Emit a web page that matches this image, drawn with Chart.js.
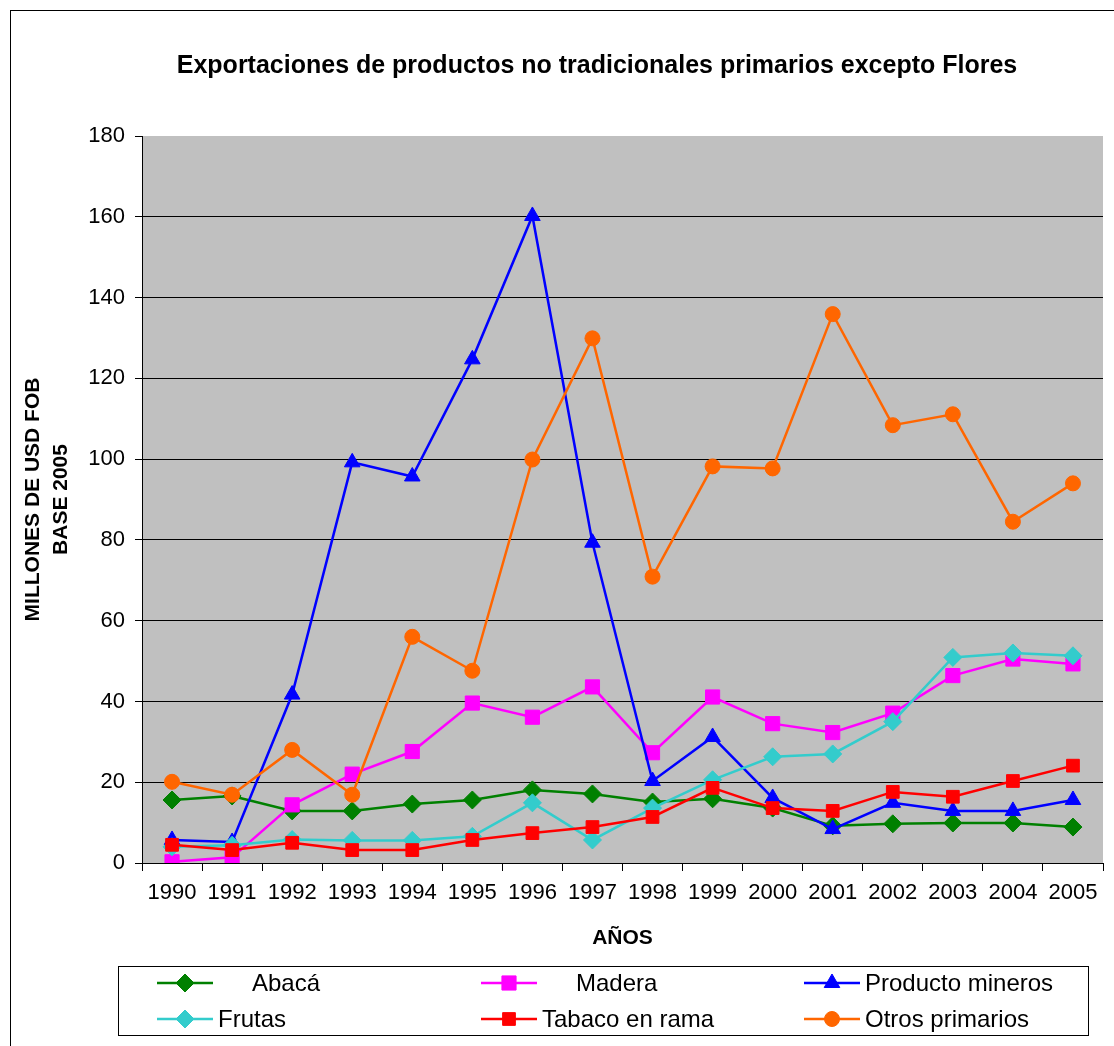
<!DOCTYPE html>
<html>
<head>
<meta charset="utf-8">
<script src="https://cdn.jsdelivr.net/npm/chart.js@4"></script>
<style>
  body{margin:0;background:#fff;overflow:hidden;}
  #frame{position:absolute;left:10px;top:10px;width:1120px;height:1100px;border-left:1px solid #000;border-top:1px solid #000;}
  #chart{position:absolute;left:0;top:0;}
</style>
</head>
<body>
<div id="frame"></div>
<canvas id="chart" width="1114" height="1046"></canvas>
<script>
const years=['1990','1991','1992','1993','1994','1995','1996','1997','1998','1999','2000','2001','2002','2003','2004','2005']
const abaca=[15.6,16.6,12.9,12.9,14.6,15.6,18.1,17.1,15.1,15.9,13.6,9.2,9.7,9.9,9.9,8.9]
const madera=[0.3,1.4,14.4,22.0,27.6,39.6,36.1,43.6,27.3,41.1,34.5,32.3,37.1,46.4,50.5,49.3]
const mineros=[5.7,5.2,41.7,99.2,95.7,124.7,160.2,79.3,20.3,31.2,16.1,8.4,14.9,12.9,12.9,15.6]
const frutas=[4.0,4.4,5.8,5.6,5.6,6.6,14.9,5.7,13.6,20.6,26.3,27.0,35.0,50.9,52.0,51.3]
const tabaco=[4.5,3.2,5.0,3.2,3.2,5.7,7.4,8.9,11.4,18.6,13.6,12.9,17.6,16.4,20.3,24.1]
const otros=[20.1,16.9,28.0,16.9,56.0,47.6,99.9,129.9,70.9,98.2,97.7,135.9,108.4,111.1,84.5,94.0]
const yTicks=[0,20,40,60,80,100,120,140,160,180]

const FONT='"Liberation Sans", Arial, sans-serif'

function serie(label,data,color,style,radius,i){
    return {
        label:label,
        data:data,
        borderColor:color,
        backgroundColor:color,
        borderWidth:2.5,
        pointStyle:style,
        pointRadius:radius,
        pointBorderWidth:1,
        pointBackgroundColor:color,
        pointBorderColor:color,
        tension:0,
        order:6-i
    }
}

const datasets=[
    serie('Abacá',abaca,'#008000','rectRot',9,0),
    serie('Madera',madera,'#FF00FF','rect',10,1),
    serie('Producto mineros',mineros,'#0000FF','triangle',9,2),
    serie('Frutas',frutas,'#33CCCC','rectRot',9,3),
    serie('Tabaco en rama',tabaco,'#FF0000','rect',9,4),
    serie('Otros primarios',otros,'#FF6600','circle',7.5,5)
]

// fondo gris, titulo y leyenda en recuadro
const decor={
    id:'decor',
    beforeDraw(chart){
        const {ctx,chartArea:a}=chart
        ctx.save()
        ctx.fillStyle='#C0C0C0'
        ctx.fillRect(a.left,a.top,a.right-a.left,a.bottom-a.top)
        ctx.restore()
    },
    afterDraw(chart){
        const ctx=chart.ctx
        ctx.save()
        ctx.fillStyle='#000'
        ctx.font='bold 25px '+FONT
        ctx.textAlign='center'
        ctx.textBaseline='middle'
        ctx.fillText('Exportaciones de productos no tradicionales primarios excepto Flores',597,66)

        // leyenda
        ctx.strokeStyle='#000'
        ctx.lineWidth=1
        ctx.strokeRect(118.5,966.5,970,69)
        const cols=[157,481,804]
        const rows=[983,1019]
        const indent=[34,34,0,0,0,0]
        ctx.font='24px '+FONT
        ctx.textAlign='left'
        chart.data.datasets.forEach((ds,i)=>{
            const x=cols[i%3], y=rows[Math.floor(i/3)]
            ctx.strokeStyle=ds.borderColor
            ctx.lineWidth=ds.borderWidth
            ctx.beginPath()
            ctx.moveTo(x,y)
            ctx.lineTo(x+56,y)
            ctx.stroke()
            ctx.fillStyle=ds.pointBackgroundColor
            ctx.strokeStyle=ds.pointBorderColor
            ctx.lineWidth=1
            Chart.helpers.drawPoint(ctx,{pointStyle:ds.pointStyle,radius:ds.pointRadius,rotation:0,borderWidth:1},x+28,y)
            ctx.fillStyle='#000'
            ctx.fillText(ds.label,x+61+indent[i],y+1)
        })
        ctx.restore()
    }
}

new Chart(document.getElementById('chart'),{
    type:'line',
    data:{labels:years,datasets:datasets},
    plugins:[decor],
    options:{
        responsive:false,
        animation:false,
        layout:{padding:{top:136,left:0,right:7,bottom:0}},
        plugins:{
            legend:{display:false},
            title:{display:false},
            tooltip:{enabled:false}
        },
        scales:{
            x:{
                type:'category',
                offset:true,
                grid:{offset:true,drawOnChartArea:false,color:'#000',tickLength:8},
                border:{color:'#000',width:1},
                ticks:{color:'#000',font:{family:FONT,size:22},padding:9,maxRotation:0,autoSkip:false},
                title:{display:true,text:'AÑOS',color:'#000',font:{family:FONT,size:21,weight:'bold'},padding:{top:0,bottom:95}},
                afterFit(scale){scale.height=183}
            },
            y:{
                min:0,
                max:180,
                afterBuildTicks(scale){scale.ticks=yTicks.map(v=>({value:v}))},
                grid:{
                    color:(c)=>c.tick&&c.tick.value===180?'rgba(0,0,0,0)':'#000',
                    tickColor:'#000',
                    tickLength:7,
                    lineWidth:1
                },
                border:{color:'#000',width:1},
                ticks:{color:'#000',font:{family:FONT,size:22},padding:10},
                title:{display:true,text:['MILLONES DE USD FOB','BASE 2005'],color:'#000',font:{family:FONT,size:21,weight:'bold',lineHeight:1.33},padding:{top:19,bottom:0}},
                afterFit(scale){scale.width=142}
            }
        }
    }
})
</script>
</body>
</html>
